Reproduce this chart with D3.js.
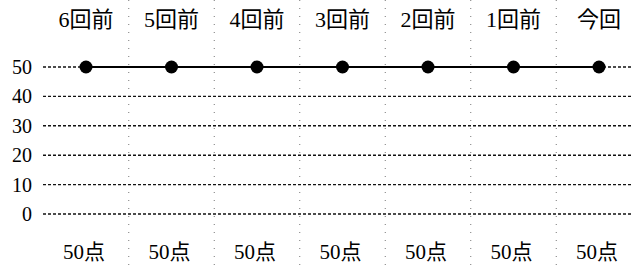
<!DOCTYPE html>
<meta charset="utf-8">
<style>
body { margin: 0; background: #fff; }
text { font-family: "Liberation Serif", "Noto Sans CJK JP", serif; fill: #000; }
.grid line { stroke: #111; stroke-width: 1.4; stroke-dasharray: 3,2; }
.sep line { stroke: #777; stroke-width: 1; stroke-dasharray: 1,7; }
</style>
<svg width="631" height="269"></svg>
<script src="https://d3js.org/d3.v7.min.js"></script>
<script>
var categories = ["6回前", "5回前", "4回前", "3回前", "2回前", "1回前", "今回"];
var scores = [50, 50, 50, 50, 50, 50, 50];
var scoreLabels = ["50点", "50点", "50点", "50点", "50点", "50点", "50点"];
var yTicks = [0, 10, 20, 30, 40, 50];

var svg = d3.select("svg");

var x = d3.scalePoint().domain(categories).range([86, 599]);
var y = d3.scaleLinear().domain([0, 50]).range([214, 67]);

// column separators (faint dotted)
var step = x.step();
svg.append("g").attr("class", "sep")
  .selectAll("line")
  .data(categories.slice(1))
  .enter().append("line")
    .attr("x1", function(d) { return x(d) - step / 2; })
    .attr("x2", function(d) { return x(d) - step / 2; })
    .attr("y1", 0)
    .attr("y2", 269);

// horizontal dashed grid
svg.append("g").attr("class", "grid")
  .selectAll("line")
  .data(yTicks)
  .enter().append("line")
    .attr("x1", 43)
    .attr("x2", 631)
    .attr("y1", function(d) { return y(d); })
    .attr("y2", function(d) { return y(d); });

// y labels
svg.append("g")
  .selectAll("text")
  .data(yTicks)
  .enter().append("text")
    .attr("x", 32)
    .attr("y", function(d) { return y(d); })
    .attr("dy", "0.35em")
    .attr("text-anchor", "end")
    .attr("font-size", 20)
    .text(function(d) { return d; });

// top labels
svg.append("g")
  .selectAll("text")
  .data(categories)
  .enter().append("text")
    .attr("x", function(d) { return x(d); })
    .attr("y", 27)
    .attr("text-anchor", "middle")
    .attr("font-size", 22)
    .text(function(d) { return d; });

// line
var line = d3.line()
  .x(function(d, i) { return x(categories[i]); })
  .y(function(d) { return y(d); });

svg.append("path")
  .datum(scores)
  .attr("d", line)
  .attr("fill", "none")
  .attr("stroke", "#000")
  .attr("stroke-width", 2);

svg.append("g")
  .selectAll("circle")
  .data(scores)
  .enter().append("circle")
    .attr("cx", function(d, i) { return x(categories[i]); })
    .attr("cy", function(d) { return y(d); })
    .attr("r", 6.5)
    .attr("fill", "#000");

// bottom score labels
svg.append("g")
  .selectAll("text")
  .data(scoreLabels)
  .enter().append("text")
    .attr("x", function(d, i) { return x(categories[i]) - 2; })
    .attr("y", 259)
    .attr("text-anchor", "middle")
    .attr("font-size", 21)
    .text(function(d) { return d; });
</script>
